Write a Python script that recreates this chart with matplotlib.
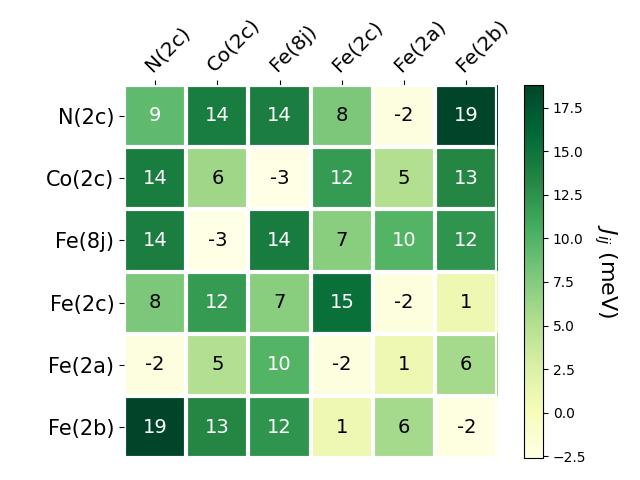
import numpy as np
import matplotlib
matplotlib.use("Agg")
import matplotlib.pyplot as plt

labels = ["N(2c)", "Co(2c)", "Fe(8j)", "Fe(2c)", "Fe(2a)", "Fe(2b)"]
values = np.array([
    [9.2, 14.1, 14.0, 7.9, -2.2, 18.8],
    [14.1, 6.1, -2.6, 11.8, 5.1, 13.2],
    [14.0, -2.6, 14.2, 7.2, 9.8, 12.3],
    [7.9, 11.8, 7.2, 15.3, -2.1, 0.8],
    [-2.2, 5.1, 9.8, -2.1, 0.9, 5.8],
    [18.8, 13.2, 12.3, 0.8, 5.8, -2.3],
])

fig, ax = plt.subplots(figsize=(6.4, 4.8), dpi=100)
im = ax.imshow(values, cmap="YlGn")
cbar = fig.colorbar(im, ax=ax)
cbar.ax.set_ylabel(r"$J_{ij}$ (meV)", rotation=-90, va="bottom", fontsize=16)

ax.set_xticks(np.arange(len(labels)), labels=labels, fontsize=14.5)
ax.set_yticks(np.arange(len(labels)), labels=labels, fontsize=15)
ax.tick_params(top=True, bottom=False, labeltop=True, labelbottom=False)
plt.setp(ax.get_xticklabels(), rotation=45, ha="left", rotation_mode="anchor")

for s in ax.spines.values():
    s.set_visible(False)
ax.set_xticks(np.arange(values.shape[1] + 1) - .5, minor=True)
ax.set_yticks(np.arange(values.shape[0] + 1) - .5, minor=True)
ax.grid(which="minor", color="w", linestyle="-", linewidth=3)
ax.tick_params(which="minor", bottom=False, left=False)

thr = im.norm(values.max()) / 2.
for i in range(values.shape[0]):
    for j in range(values.shape[1]):
        c = "white" if im.norm(values[i, j]) > thr else "black"
        ax.text(j, i, f"{values[i, j]:.0f}", ha="center", va="center", color=c, fontsize=14)

fig.tight_layout()
fig.savefig("out.png")
